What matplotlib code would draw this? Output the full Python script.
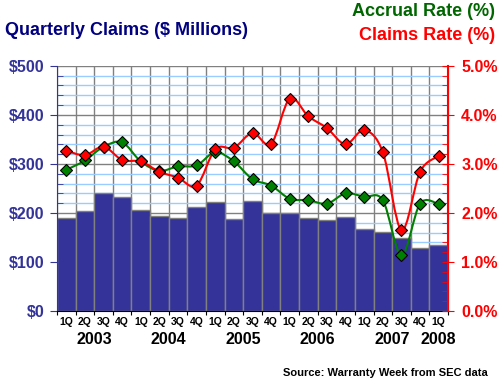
import numpy as np
import matplotlib
matplotlib.use("Agg")
import matplotlib.pyplot as plt
from matplotlib.path import Path
from matplotlib.patches import PathPatch

# quarterly data, 1Q 2003 .. 1Q 2008
quarters = ["1Q", "2Q", "3Q", "4Q"] * 5 + ["1Q"]
years = ["2003", "2004", "2005", "2006", "2007", "2008"]
year_pos = [1.5, 5.5, 9.5, 13.5, 17.5, 20.0]

claims = [189, 205, 240, 233, 207, 193, 189, 212, 222, 187, 224,
          199, 199, 189, 185, 191, 167, 161, 150, 128, 134]
claims_rate = [3.27, 3.18, 3.35, 3.08, 3.05, 2.84, 2.72, 2.56, 3.30, 3.33, 3.63,
               3.41, 4.33, 3.97, 3.73, 3.40, 3.69, 3.24, 1.65, 2.84, 3.16]
accrual_rate = [2.88, 3.07, 3.35, 3.44, 3.05, 2.86, 2.95, 2.97, 3.24, 3.05, 2.69,
                2.56, 2.29, 2.26, 2.19, 2.40, 2.33, 2.26, 1.14, 2.19, 2.18]

NAVY = "#333399"
RED = "#ff0000"
GREEN = "#008000"
FONT = "Liberation Sans"


def smooth_path(x, y):
    # catmull-rom style smoothing, like the spreadsheet "smoothed line"
    pts = np.column_stack([x, y]).astype(float)
    verts = [pts[0]]
    codes = [Path.MOVETO]
    n = len(pts)
    for i in range(n - 1):
        p0 = pts[max(i - 1, 0)]
        p1 = pts[i]
        p2 = pts[i + 1]
        p3 = pts[min(i + 2, n - 1)]
        c1 = p1 + (p2 - p0) / 6.0
        c2 = p2 - (p3 - p1) / 6.0
        verts += [c1, c2, p2]
        codes += [Path.CURVE4] * 3
    return Path(verts, codes)


x = np.arange(len(claims))

fig = plt.figure(figsize=(5.0, 3.85), dpi=100)
ax = fig.add_axes([0.114, 0.192, 0.782, 0.637])

ax.bar(x, claims, width=1.0, color=NAVY, edgecolor="#808080", linewidth=1, zorder=2)
ax.set_xlim(-0.5, len(claims) - 0.5)
ax.set_ylim(0, 500)

# grid
ax.set_yticks(np.arange(0, 501, 100))
ax.set_yticks(np.arange(0, 501, 20), minor=True)
ax.set_xticks(np.arange(-0.5, len(claims), 1.0))
ax.set_xticks([], minor=True)
ax.grid(axis="y", which="minor", color="#99ccff", linewidth=1, zorder=0)
ax.grid(axis="y", which="major", color="#808080", linewidth=1, zorder=0)
ax.grid(axis="x", which="major", color="#808080", linewidth=1, zorder=0)
ax.set_axisbelow(True)

ax.set_yticklabels(["$%d" % v for v in range(0, 501, 100)])
ax.set_xticklabels([])
ax.tick_params(axis="y", which="major", direction="out", length=5, color=NAVY,
               labelcolor=NAVY, labelsize=11.5, pad=4)
ax.tick_params(axis="y", which="minor", direction="in", length=4, color=NAVY)
ax.tick_params(axis="x", which="major", direction="out", length=3, color="black")
for lab in ax.get_yticklabels():
    lab.set_fontfamily(FONT)
    lab.set_fontweight("bold")

ax.spines["top"].set_visible(False)
ax.spines["left"].set_color(NAVY)
ax.spines["bottom"].set_color("black")

ax2 = ax.twinx()
ax2.set_ylim(0, 5.0)
ax2.set_xlim(-0.5, len(claims) - 0.5)
ax2.set_yticks(np.arange(0, 5.01, 1.0))
ax2.set_yticks(np.arange(0, 5.01, 0.2), minor=True)
ax2.set_yticklabels(["%.1f%%" % v for v in np.arange(0, 5.01, 1.0)])
ax2.tick_params(axis="y", which="major", direction="inout", length=9, color=RED,
                labelcolor=RED, labelsize=11.5, pad=5)
ax2.tick_params(axis="y", which="minor", direction="in", length=4, color=RED)
for lab in ax2.get_yticklabels():
    lab.set_fontfamily(FONT)
    lab.set_fontweight("bold")
ax2.spines["right"].set_color(RED)
ax2.spines["right"].set_linewidth(1.5)
ax2.spines["top"].set_visible(False)
ax2.spines["left"].set_visible(False)
ax2.spines["bottom"].set_visible(False)

for vals, col in [(accrual_rate, GREEN), (claims_rate, RED)]:
    ax2.add_patch(PathPatch(smooth_path(x, vals), facecolor="none", edgecolor=col,
                            linewidth=1.5, zorder=3))
    ax2.plot(x, vals, linestyle="none", marker="D", markersize=6,
             markerfacecolor=col, markeredgecolor="black", markeredgewidth=0.8, zorder=4)

# category labels under the axis
for i, q in enumerate(quarters):
    ax.text(i, -0.045, q, transform=ax.get_xaxis_transform(), ha="center", va="center",
            fontsize=7.5, fontweight="bold", family=FONT)
for pos, yr in zip(year_pos, years):
    ax.text(pos, -0.115, yr, transform=ax.get_xaxis_transform(), ha="center", va="center",
            fontsize=11.5, fontweight="bold", family=FONT)

fig.text(0.01, 0.922, "Quarterly Claims ($ Millions)", ha="left", va="center",
         color="#000080", fontsize=13, fontweight="bold", family=FONT)
fig.text(0.99, 0.969, "Accrual Rate (%)", ha="right", va="center",
         color="#006600", fontsize=13, fontweight="bold", family=FONT)
fig.text(0.99, 0.909, "Claims Rate (%)", ha="right", va="center",
         color=RED, fontsize=13, fontweight="bold", family=FONT)
fig.text(0.976, 0.031, "Source: Warranty Week from SEC data", ha="right", va="center",
         color="black", fontsize=8, fontweight="bold", family=FONT)

fig.savefig("out.png", dpi=100)
